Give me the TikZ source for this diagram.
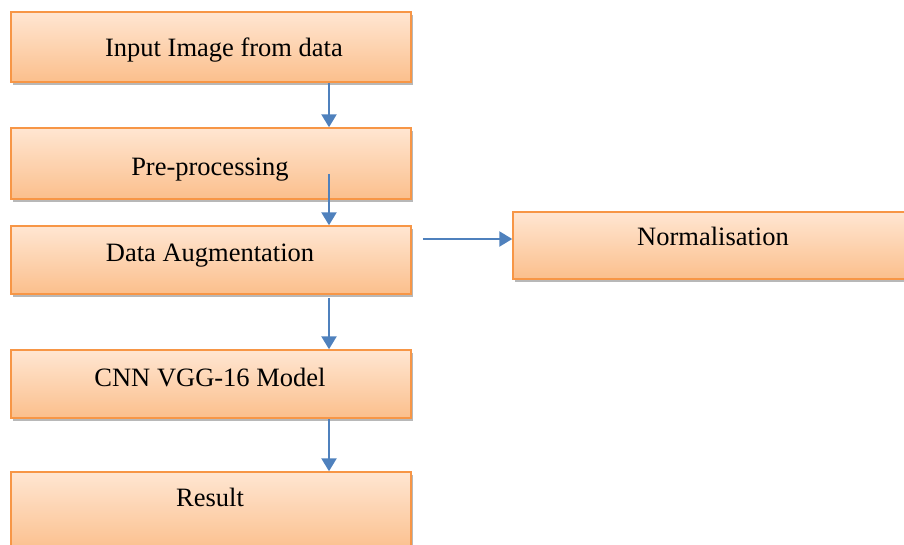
\documentclass[tikz,border=0pt]{standalone}
\usepackage{fontspec}
\setmainfont{Liberation Serif}
\usetikzlibrary{arrows.meta,shadows,calc}

\definecolor{boxedge}{HTML}{F79646}
\definecolor{boxtop}{HTML}{FFE6D2}
\definecolor{boxbottom}{HTML}{FBBF8C}
\definecolor{flow}{HTML}{4F81BD}

\tikzset{
  stage/.style={draw=boxedge, line width=1.5pt, rectangle,
    top color=boxtop, bottom color=boxbottom, inner sep=0pt,
    drop shadow={shadow xshift=2pt, shadow yshift=-2.5pt, opacity=0.28, fill=black}},
  caption/.style={anchor=base, inner sep=0pt, font=\fontsize{26.5}{30}\selectfont},
  flowarrow/.style={draw=flow, line width=2.5pt,
    -{Triangle[length=13pt,width=15pt,fill=flow]}}
}

\begin{document}
\begin{tikzpicture}[x=1pt,y=-1pt]
  \useasboundingbox (0,0) rectangle (904,544);
  \clip (0,0) rectangle (904,544);

  % processing stages
  \node[stage, minimum width=400pt, minimum height=70pt] (b1) at (211,47) {};
  \node[stage, minimum width=400pt, minimum height=71pt] (b2) at (211,163.5) {};
  \node[stage, minimum width=400pt, minimum height=68pt] (b3) at (211,260) {};
  \node[stage, minimum width=420pt, minimum height=67pt] (nrm) at (723,245.5) {};
  \node[stage, minimum width=400pt, minimum height=68pt] (b4) at (211,384) {};
  \node[stage, minimum width=400pt, minimum height=80pt] (b5) at (211,512) {};

  % stage captions
  \node[caption] (t1) at (224,56) {Input Image from data};
  \node[caption] (t2) at (210,175) {Pre-processing};
  \node[caption] (t3) at (210,261) {Data Augmentation};
  \node[caption] (tn) at (713,245) {Normalisation};
  \node[caption] (t4) at (210,386) {CNN VGG-16 Model};
  \node[caption] (t5) at (210,506) {Result};

  % connector end points
  \coordinate (a1s) at (b1.south -| 329,0);
  \coordinate (a1e) at (b2.north -| 329,0);
  \coordinate (a2s) at ($(b2.south -| 329,0)+(0,-26)$);
  \coordinate (a2e) at (b3.north -| 329,0);
  \coordinate (a3s) at ($(b3.south -| 329,0)+(0,3)$);
  \coordinate (a3e) at (b4.north -| 329,0);
  \coordinate (a4s) at (b4.south -| 329,0);
  \coordinate (a4e) at (b5.north -| 329,0);
  \coordinate (hs) at ($(b3.east)+(11,-21)$);
  \coordinate (he) at (nrm.west |- hs);

  % flow
  \draw[flowarrow] (a1s) -- (a1e);
  \draw[flowarrow] (a2s) -- (a2e);
  \draw[flowarrow] (a3s) -- (a3e);
  \draw[flowarrow] (a4s) -- (a4e);
  \draw[flowarrow] (hs) -- (he);
\end{tikzpicture}
\end{document}
